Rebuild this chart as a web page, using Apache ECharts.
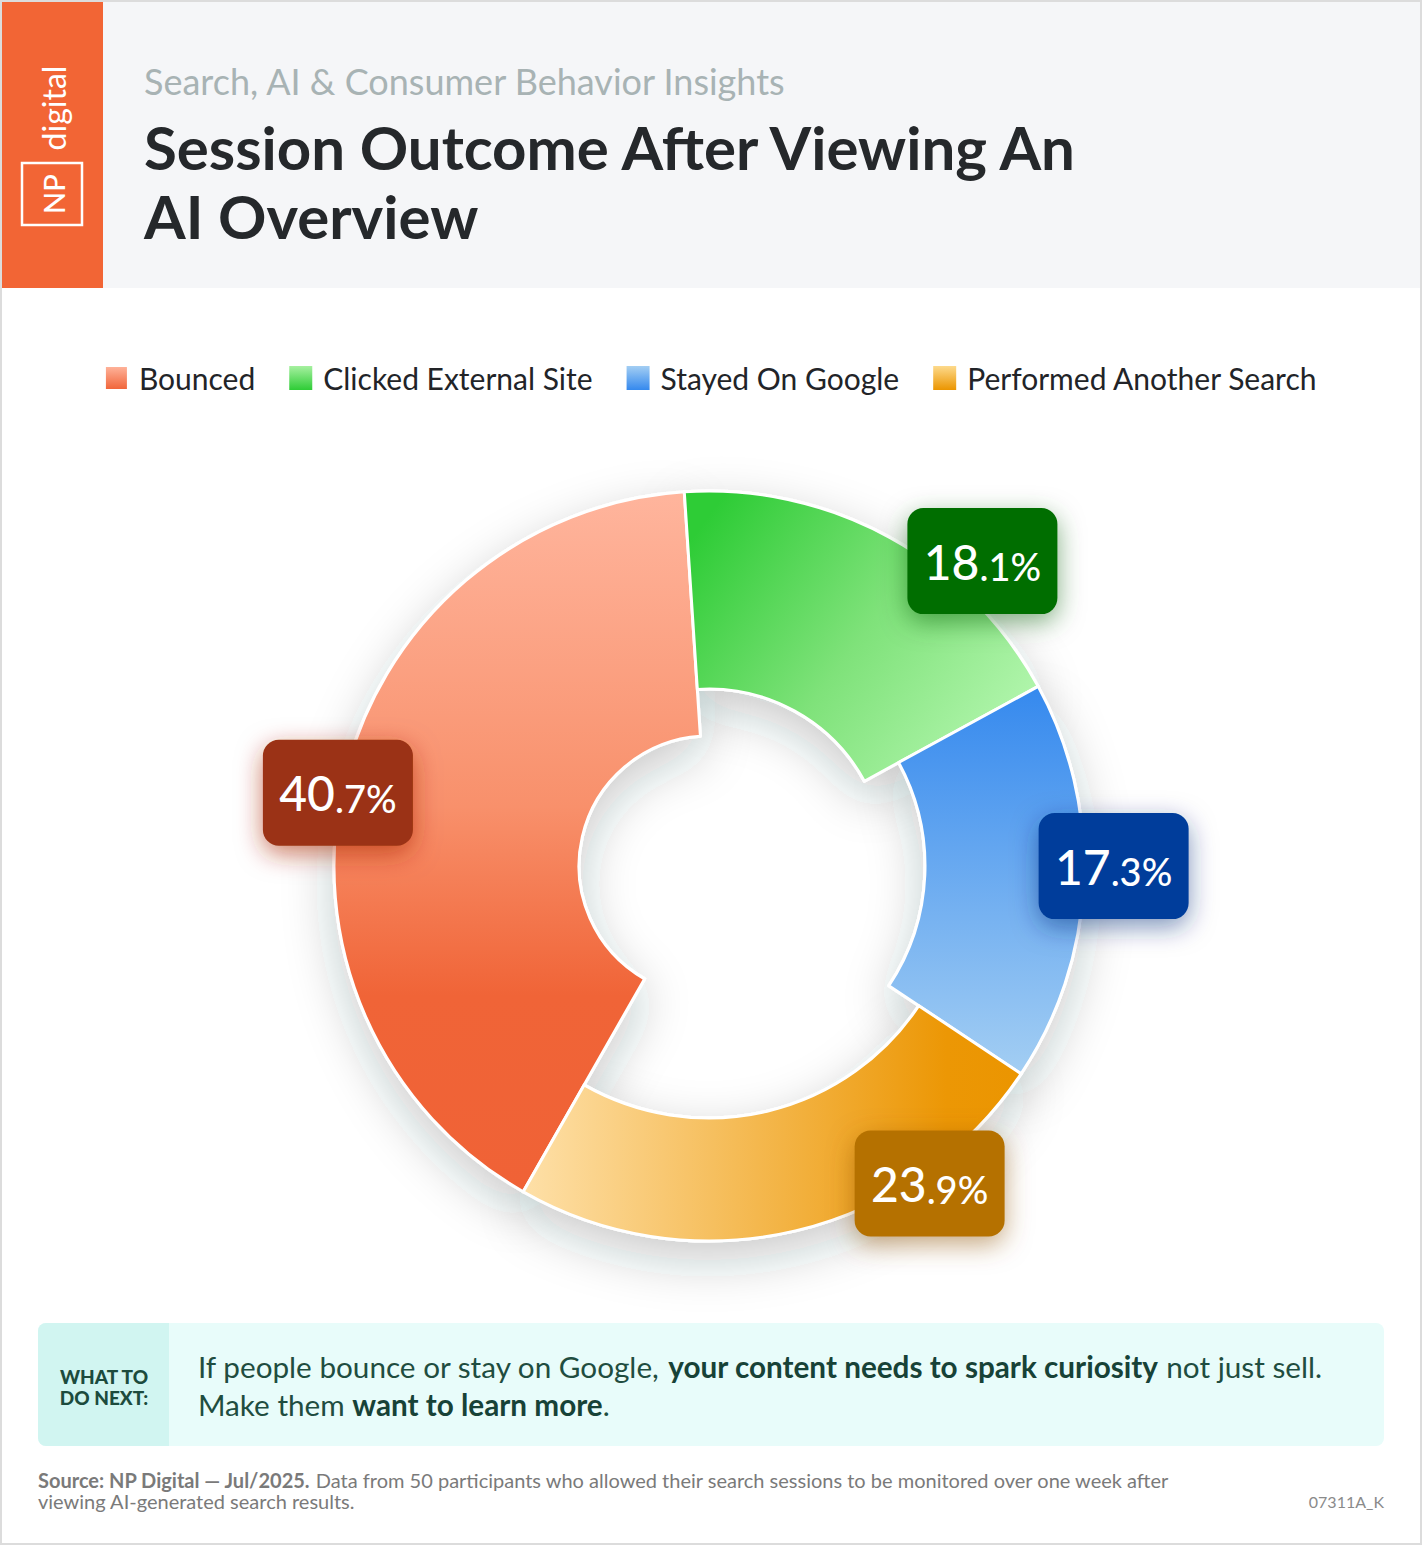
<!DOCTYPE html>
<html><head><meta charset="utf-8">
<script src="https://cdn.jsdelivr.net/npm/echarts@6/dist/echarts.min.js"></script>
<style>html,body{margin:0;padding:0;background:#fff}#chart{width:1422px;height:1545px}</style>
</head><body><div id="chart"></div>
<script>
// ---- data ----
const categories = ['Bounced', 'Clicked External Site', 'Stayed On Google', 'Performed Another Search'];
const shares = [40.7, 18.1, 17.3, 23.9];
const subtitleText = 'Search, AI & Consumer Behavior Insights';
const titleLine1 = 'Session Outcome After Viewing An';
const titleLine2 = 'AI Overview';
const adviceLine1 = ['If people bounce or stay on Google, ', 'your content needs to spark curiosity', ' not just sell.'];
const adviceLine2 = ['Make them ', 'want to learn more', '.'];
const sourceBold = 'Source: NP Digital \u2014 Jul/2025.';
const sourceRest = ' Data from 50 participants who allowed their search sessions to be monitored over one week after';
const sourceLine2 = 'viewing AI-generated search results.';
const codeText = '07311A_K';

// ---- styles / layout ----
const FONT = 'Lato, "Noto Sans", sans-serif';
const CENTER = [709, 866];
const OUTER = 375;
const innerRadii = [130, 177, 216, 252];
const START = 240.3;
const lg = (x, y, x2, y2, stops) => ({type: 'linear', x, y, x2, y2, colorStops: stops.map(s => ({offset: s[0], color: s[1]}))});
const sliceFills = [
  lg(0, 0, 0, 1, [[0, '#FFB59D'], [0.45, '#F8906B'], [0.72, '#F06437'], [1, '#F06236']]),
  lg(0, 0.2, 1, 0.8, [[0, '#2ECC36'], [0.5, '#7FE27A'], [1, '#B6F7B1']]),
  lg(0, 0, 0, 1, [[0, '#3589EE'], [1, '#A3CEF3']]),
  lg(0, 0, 1, 0, [[0, '#FEE0A8'], [0.85, '#EC9705'], [1, '#EB9500']])
];
const legendFills = [
  lg(0, 0, 0, 1, [[0, '#FFB59D'], [1, '#F06236']]),
  lg(0, 0, 0, 1, [[0, '#A6F0A0'], [1, '#2ECC36']]),
  lg(0, 0, 0, 1, [[0, '#A3CEF3'], [1, '#3589EE']]),
  lg(0, 0, 0, 1, [[0, '#FDDA8C'], [1, '#EB9500']])
];
const labelColors = ['#9B3313', '#006E00', '#003E9B', '#B57100'];
const labelShadows = ['rgba(170,40,0,0.6)', 'rgba(0,90,0,0.5)', 'rgba(0,40,120,0.5)', 'rgba(140,80,0,0.5)'];
const labelOffsets = [[8, 14], [86, 36], [16, -17], [131, -61]];

function ringSeries(i, shadow) {
  return {
    type: 'pie', z: shadow ? 1 : 2,
    center: CENTER, radius: [innerRadii[i], OUTER], startAngle: START, clockwise: true,
    silent: true, avoidLabelOverlap: false, animation: false,
    label: {show: false}, labelLine: {show: false}, emphasis: {disabled: true},
    data: shares.map((v, j) => ({
      name: categories[j], value: v,
      itemStyle: j === i
        ? (shadow
          ? {color: '#fff', borderColor: '#fff', borderWidth: 3, shadowBlur: 50, shadowColor: 'rgba(40,45,55,0.24)', shadowOffsetY: 18}
          : {color: sliceFills[i], borderColor: '#fff', borderWidth: 3})
        : {color: 'rgba(0,0,0,0)', borderWidth: 0}
    }))
  };
}

const series = [];
for (let i = 0; i < shares.length; i++) series.push(ringSeries(i, true));
for (let i = 0; i < shares.length; i++) series.push(ringSeries(i, false));
series.push({
  type: 'pie', z: 5, center: CENTER, radius: [OUTER, OUTER + 22], startAngle: START, clockwise: true,
  silent: true, avoidLabelOverlap: false, animation: false,
  itemStyle: {color: 'rgba(0,0,0,0)'}, labelLine: {show: false}, emphasis: {disabled: true},
  label: {
    show: true, position: 'inside',
    formatter: p => { const parts = p.value.toFixed(1).split('.'); return '{a|' + parts[0] + '}{b|.' + parts[1] + '%}'; },
    width: 150, height: 48, padding: [29, 0], align: 'center', verticalAlign: 'middle',
    borderRadius: 16, shadowBlur: 26, shadowOffsetY: 8,
    rich: {
      a: {fontSize: 48, fontFamily: FONT, fontWeight: 500, color: '#fff', lineHeight: 48, verticalAlign: 'bottom'},
      b: {fontSize: 38, fontFamily: FONT, fontWeight: 500, color: '#fff', lineHeight: 45, verticalAlign: 'bottom'}
    }
  },
  data: shares.map((v, j) => ({
    name: categories[j], value: v,
    label: {backgroundColor: labelColors[j], shadowColor: labelShadows[j], offset: labelOffsets[j]}
  }))
});

const chart = echarts.init(document.getElementById('chart'), null, {renderer: 'svg', width: 1422, height: 1545});
chart.setOption({
  backgroundColor: '#ffffff',
  animation: false,
  title: [
    {text: subtitleText, left: 139, top: 58, textStyle: {fontFamily: FONT, fontSize: 36, fontWeight: 'normal', color: '#A8B3B4'}},
    {text: titleLine1, left: 139, top: 112, textStyle: {fontFamily: FONT, fontSize: 60, fontWeight: 'bold', color: '#25282B', lineHeight: 60}},
    {text: titleLine2, left: 139, top: 181, textStyle: {fontFamily: FONT, fontSize: 60, fontWeight: 'bold', color: '#25282B', lineHeight: 60}}
  ],
  legend: {
    top: 358, left: 'center', itemWidth: 23, itemHeight: 24, itemGap: 34, icon: 'rect', selectedMode: false,
    textStyle: {fontFamily: FONT, fontSize: 30, color: '#222428', padding: [0, 0, 0, 6]},
    data: categories.map((c, i) => ({name: c, itemStyle: {color: legendFills[i]}}))
  },
  series: series,
  graphic: [
    {type: 'rect', z: -10, silent: true, shape: {x: 2, y: 2, width: 1418, height: 286}, style: {fill: '#F5F6F8'}},
    {type: 'rect', z: -9, silent: true, shape: {x: 2, y: 2, width: 101, height: 286}, style: {fill: '#F26535'}},
    {type: 'rect', z: 10, silent: true, shape: {x: 1, y: 1, width: 1420, height: 1543}, style: {fill: 'none', stroke: '#DCDCDC', lineWidth: 2}},
    {type: 'rect', z: -8, silent: true, shape: {x: 22, y: 163, width: 60, height: 62}, style: {fill: 'none', stroke: '#fff', lineWidth: 2.5}},
    {type: 'text', z: -8, silent: true, x: 53, y: 194, rotation: Math.PI / 2,
      style: {text: 'NP', fill: '#fff', font: '500 29px ' + FONT, textAlign: 'center', textVerticalAlign: 'middle'}},
    {type: 'text', z: -8, silent: true, x: 53, y: 108, rotation: Math.PI / 2,
      style: {text: 'digital', fill: '#fff', font: '32px ' + FONT, textAlign: 'center', textVerticalAlign: 'middle'}},
    {type: 'rect', z: -8, silent: true, shape: {x: 38, y: 1323, width: 1346, height: 123, r: 8}, style: {fill: '#E8FCFA'}},
    {type: 'rect', z: -7, silent: true, shape: {x: 38, y: 1323, width: 131, height: 123, r: [8, 0, 0, 8]}, style: {fill: '#D1F5F1'}},
    {type: 'text', z: -6, silent: true, x: 104, y: 1387,
      style: {text: 'WHAT TO\nDO NEXT:', fill: '#1C4B3D', font: '900 19px ' + FONT, textAlign: 'center', textVerticalAlign: 'middle', lineHeight: 21}},
    {type: 'text', z: -6, silent: true, x: 198, y: 1385,
      style: {
        text: '{n|' + adviceLine1[0] + '}{b|' + adviceLine1[1] + '}{n|' + adviceLine1[2] + '}\n{n|' + adviceLine2[0] + '}{b|' + adviceLine2[1] + '}{n|' + adviceLine2[2] + '}',
        textVerticalAlign: 'middle', textAlign: 'left',
        rich: {
          n: {fontFamily: FONT, fontSize: 29.7, fontWeight: 'normal', fill: '#1F4D40', color: '#1F4D40', lineHeight: 38},
          b: {fontFamily: FONT, fontSize: 29.7, fontWeight: 'bold', fill: '#174237', color: '#174237', lineHeight: 38}
        }
      }},
    {type: 'text', z: -6, silent: true, x: 38, y: 1490,
      style: {
        text: '{b|' + sourceBold + '}{n|' + sourceRest + '}\n{n|' + sourceLine2 + '}',
        textVerticalAlign: 'middle', textAlign: 'left',
        rich: {
          n: {fontFamily: FONT, fontSize: 20, fill: '#7A7A7A', color: '#7A7A7A', lineHeight: 21},
          b: {fontFamily: FONT, fontSize: 20, fontWeight: 'bold', fill: '#7A7A7A', color: '#7A7A7A', lineHeight: 21}
        }
      }},
    {type: 'text', z: -6, silent: true, x: 1384, y: 1501,
      style: {text: codeText, fill: '#8A8A8A', font: '16px ' + FONT, textAlign: 'right', textVerticalAlign: 'middle'}}
  ]
});
</script></body></html>
